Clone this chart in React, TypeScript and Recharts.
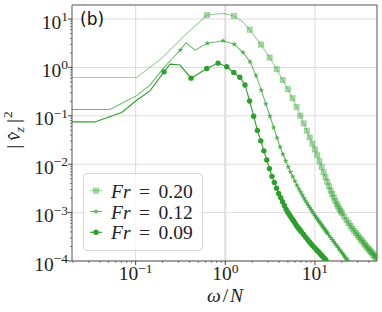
import { LineChart, Line, XAxis, YAxis, CartesianGrid, ReferenceLine } from 'recharts';

// ω/N positions and |v_z|^2 values.
// *Path = line vertices without a marker, *Marks = points that carry a marker.
const fr020Path = [
  [0.0195, 0.62], [0.103, 0.62], [0.202, 1.63], [0.337, 4.24], [0.953, 13.1], [1.55, 8.9], [49.3, 0.000111],
];
const fr020Marks = [
  [0.625, 12.1], [1.25, 11.6], [1.875, 6.01], [2.5, 2.97], [3.125, 1.6], [3.75, 0.916], [4.375, 0.551],
  [5.0, 0.355], [5.625, 0.231], [6.25, 0.153], [6.875, 0.101], [7.5, 0.0697], [8.125, 0.0493],
  [8.75, 0.0358], [9.375, 0.0266], [10.0, 0.0202], [10.625, 0.0153], [11.25, 0.0115], [11.875, 0.00875],
  [12.5, 0.00677], [13.125, 0.00537], [13.75, 0.00432], [14.375, 0.0035], [15.0, 0.00286],
  [15.625, 0.00242], [16.25, 0.00205], [16.875, 0.00175], [17.5, 0.00152], [18.125, 0.00134],
  [18.75, 0.00119], [19.375, 0.00107], [20.0, 0.000977], [21.25, 0.000824], [22.5, 0.000698],
  [23.75, 0.000607], [25.0, 0.000531], [26.25, 0.000468], [27.5, 0.000417], [28.75, 0.000376],
  [30.0, 0.00034], [31.25, 0.000308], [32.5, 0.000281], [33.75, 0.000257], [35.0, 0.000236],
  [36.25, 0.000217], [37.5, 0.000201], [38.75, 0.000186], [40.0, 0.000174], [41.25, 0.000163],
  [42.5, 0.000153], [43.75, 0.000144], [45.0, 0.000135], [46.25, 0.000128], [47.5, 0.000121],
  [48.75, 0.000114],
];

const fr012Path = [
  [0.0195, 0.135], [0.0516, 0.135], [0.1026, 0.261], [0.1445, 0.43], [0.203, 0.953], [0.365, 3.23],
  [0.46, 2.28], [23.5, 0.0001],
];
const fr012Marks = [
  [0.315, 2.29], [0.63, 3.16], [0.945, 3.56], [1.26, 3.02], [1.575, 2.04], [1.89, 1.31], [2.205, 0.676],
  [2.52, 0.339], [2.835, 0.177], [3.15, 0.0982], [3.465, 0.0575], [3.78, 0.0352], [4.095, 0.0226],
  [4.41, 0.0161], [4.725, 0.0117], [5.04, 0.00875], [5.355, 0.0069], [5.67, 0.00552], [5.985, 0.00447],
  [6.3, 0.00366], [6.615, 0.00311], [6.93, 0.00267], [7.245, 0.0023], [7.56, 0.002], [7.875, 0.00175],
  [8.19, 0.00155], [8.505, 0.00139], [8.82, 0.00125], [9.135, 0.00113], [9.45, 0.00103],
  [9.765, 0.000933], [10.08, 0.000853], [10.395, 0.000787], [10.71, 0.000729], [11.025, 0.000676],
  [11.34, 0.000628], [11.655, 0.000585], [11.97, 0.000546], [12.285, 0.000511], [12.6, 0.000478],
  [12.915, 0.000448], [13.23, 0.000421], [13.545, 0.000396], [13.86, 0.000373], [14.49, 0.000333],
  [15.12, 0.000299], [15.75, 0.00027], [16.38, 0.000245], [17.01, 0.000223], [17.64, 0.000204],
  [18.27, 0.000187], [18.9, 0.000171], [19.53, 0.000158], [20.16, 0.000146], [20.79, 0.000135],
  [21.42, 0.000125], [22.05, 0.000116], [22.68, 0.000109], [23.31, 0.000101],
];

const fr009Path = [
  [0.0195, 0.0748], [0.0351, 0.0748], [0.0698, 0.117], [0.1026, 0.21], [0.1445, 0.328], [0.242, 1.17],
  [0.313, 1.12], [13.5, 0.0001],
];
const fr009Marks = [
  [0.2075, 0.81], [0.415, 0.6], [0.6225, 0.95], [0.83, 1.23], [1.0375, 1.03], [1.245, 0.787],
  [1.4525, 0.628], [1.66, 0.434], [1.8675, 0.203], [2.075, 0.098], [2.2825, 0.05], [2.49, 0.0304],
  [2.6975, 0.0189], [2.905, 0.01225], [3.1125, 0.00811], [3.32, 0.00562], [3.5275, 0.00421],
  [3.735, 0.0032], [3.9425, 0.00248], [4.15, 0.00204], [4.3575, 0.00168], [4.565, 0.0014],
  [4.7725, 0.00118], [4.98, 0.00102], [5.1875, 0.000908], [5.395, 0.000813], [5.6025, 0.000731],
  [5.81, 0.000661], [6.0175, 0.0006], [6.225, 0.000546], [6.4325, 0.0005], [6.64, 0.000465],
  [6.8475, 0.000432], [7.055, 0.000404], [7.47, 0.000353], [7.885, 0.000311], [8.3, 0.000276],
  [8.715, 0.000247], [9.13, 0.000222], [9.545, 0.000203], [9.96, 0.000187], [10.375, 0.000172],
  [10.79, 0.000159], [11.205, 0.000148], [11.62, 0.000137], [12.035, 0.000128], [12.45, 0.000119],
  [12.865, 0.000112], [13.28, 0.000105],
];

const xTicks = [
  0.02, 0.03, 0.04, 0.05, 0.06, 0.07, 0.08, 0.09, 0.1, 0.2, 0.3, 0.4, 0.5, 0.6, 0.7, 0.8, 0.9,
  1, 2, 3, 4, 5, 6, 7, 8, 9, 10, 20, 30, 40,
];
const yTicks = [
  1e-4, 2e-4, 3e-4, 4e-4, 5e-4, 6e-4, 7e-4, 8e-4, 9e-4,
  1e-3, 2e-3, 3e-3, 4e-3, 5e-3, 6e-3, 7e-3, 8e-3, 9e-3,
  1e-2, 2e-2, 3e-2, 4e-2, 5e-2, 6e-2, 7e-2, 8e-2, 9e-2,
  0.1, 0.2, 0.3, 0.4, 0.5, 0.6, 0.7, 0.8, 0.9,
  1, 2, 3, 4, 5, 6, 7, 8, 9, 10,
];
const gridX = [0.1, 1, 10];
const gridY = [1e-4, 1e-3, 1e-2, 0.1, 1, 10];
const legendLabels = ['0.20', '0.12', '0.09'];

const GREEN = '44,160,44';
const SERIF = '"Liberation Serif", "Times New Roman", serif';
const FS = 19.5;
const SUP = 13.5;

const merge = (path: number[][], marks: number[][]) =>
  [
    ...path.map(([w, v]) => ({ w, v, m: false })),
    ...marks.map(([w, v]) => ({ w, v, m: true })),
  ].sort((a, b) => a.w - b.w);

const d020 = merge(fr020Path, fr020Marks);
const d012 = merge(fr012Path, fr012Marks);
const d009 = merge(fr009Path, fr009Marks);

const isMajor = (v: number) => Math.abs(Math.log10(v) - Math.round(Math.log10(v))) < 1e-6;
const expLabel = (v: number) => {
  const e = Math.round(Math.log10(v));
  return e < 0 ? '\u2212' + -e : String(e);
};

const starPoints = (cx: number, cy: number, r: number) => {
  const pts: string[] = [];
  for (let i = 0; i < 10; i++) {
    const a = -Math.PI / 2 + (i * Math.PI) / 5;
    const rr = i % 2 === 0 ? r : r * 0.45;
    pts.push(`${cx + rr * Math.cos(a)},${cy + rr * Math.sin(a)}`);
  }
  return pts.join(' ');
};

const SquareMark = ({ cx, cy }: any) => (
  <rect x={cx - 2.6} y={cy - 2.6} width={5.2} height={5.2}
    fill={`rgba(${GREEN},0.38)`} stroke={`rgba(${GREEN},0.38)`} strokeWidth={0.8} />
);
const StarMark = ({ cx, cy }: any) => (
  <polygon points={starPoints(cx, cy, 3)} fill={`rgba(${GREEN},0.7)`} />
);
const CircleMark = ({ cx, cy }: any) => <circle cx={cx} cy={cy} r={2.7} fill={`rgb(${GREEN})`} />;

const dotWith = (Shape: any) => (p: any) => {
  if (!p.payload || !p.payload.m) return <g key={`n-${p.index}`} />;
  return <Shape key={`d-${p.index}`} cx={p.cx} cy={p.cy} />;
};

const XTick = (props: any) => {
  const { x, y, payload } = props;
  const major = isMajor(payload.value);
  return (
    <g>
      <line x1={x} x2={x} y1={y} y2={y + (major ? 4 : 2)} stroke="#333" strokeWidth={major ? 0.9 : 0.6} />
      {major && (
        <text x={x} y={y + 19} textAnchor="middle" fontFamily={SERIF} fontSize={FS} fill="#222">
          10<tspan dy={-7.5} fontSize={SUP}>{expLabel(payload.value)}</tspan>
        </text>
      )}
    </g>
  );
};

const YTick = (props: any) => {
  const { x, y, payload } = props;
  const major = isMajor(payload.value);
  return (
    <g>
      <line x1={x - (major ? 4 : 2)} x2={x} y1={y} y2={y} stroke="#333" strokeWidth={major ? 0.9 : 0.6} />
      {major && (
        <text x={x - 4} y={y + 9.5} textAnchor="end" fontFamily={SERIF} fontSize={FS} fill="#222">
          10<tspan dy={-7.5} fontSize={SUP}>{expLabel(payload.value)}</tspan>
        </text>
      )}
    </g>
  );
};

const legendMarks = [SquareMark, StarMark, CircleMark];
const legendStroke = [`rgba(${GREEN},0.45)`, `rgba(${GREEN},0.7)`, `rgb(${GREEN})`];

export default function App() {
  return (
    <div style={{ position: 'absolute', left: 0, top: 0, width: 382, height: 312, background: '#fff' }}>
      <LineChart width={382} height={312} margin={{ top: 5, right: 5, left: 0, bottom: 0 }}>
        <CartesianGrid horizontalValues={gridY} verticalValues={gridX} stroke="#d4d4d4" strokeWidth={0.8} />
        <ReferenceLine x={1} stroke="#e0e0e0" strokeWidth={2} />
        <ReferenceLine y={19.5} stroke="#555" strokeWidth={1} />
        <ReferenceLine x={49.3} stroke="#555" strokeWidth={1} />
        <XAxis
          type="number" scale="log" dataKey="w" domain={[0.0195, 49.3]} allowDataOverflow
          ticks={xTicks} interval={0} tick={XTick} tickLine={false} tickSize={0} tickMargin={0}
          axisLine={{ stroke: '#555' }} height={51}
        />
        <YAxis
          type="number" scale="log" dataKey="v" domain={[1e-4, 19.5]} allowDataOverflow
          ticks={yTicks} interval={0} tick={YTick} tickLine={false} tickSize={0} tickMargin={0}
          axisLine={{ stroke: '#555' }} width={72}
        />
        <Line data={d020} dataKey="v" type="linear" stroke={`rgba(${GREEN},0.45)`} strokeWidth={1.1}
          dot={dotWith(SquareMark)} activeDot={false} isAnimationActive={false} />
        <Line data={d012} dataKey="v" type="linear" stroke={`rgba(${GREEN},0.7)`} strokeWidth={1.1}
          dot={dotWith(StarMark)} activeDot={false} isAnimationActive={false} />
        <Line data={d009} dataKey="v" type="linear" stroke={`rgb(${GREEN})`} strokeWidth={1.1}
          dot={dotWith(CircleMark)} activeDot={false} isAnimationActive={false} />
      </LineChart>

      <svg width={382} height={312} style={{ position: 'absolute', left: 0, top: 0, pointerEvents: 'none' }}>
        <text x={80} y={25} fontFamily='"DejaVu Sans", sans-serif' fontSize={17} fill="#111">(b)</text>
        <text x={225} y={302} textAnchor="middle" fontFamily={SERIF} fontSize={FS} fill="#222">
          <tspan fontStyle="italic">ω</tspan>
          <tspan dx={2}>/</tspan>
          <tspan dx={2} fontStyle="italic">N</tspan>
        </text>
        <text transform="rotate(-90)" x={-130} y={20} textAnchor="middle" fontFamily={SERIF} fontSize={FS} fill="#222">
          |<tspan dx={4} fontStyle="italic">v̂</tspan>
          <tspan fontStyle="italic" fontSize={SUP} dy={4}>z</tspan>
          <tspan dx={4} dy={-4}>|</tspan>
          <tspan dx={1} fontSize={SUP} dy={-8}>2</tspan>
        </text>
      </svg>

      <svg width={120} height={78} style={{ position: 'absolute', left: 83, top: 173 }}>
        <rect x={0.5} y={0.5} width={119} height={77} rx={3.5} fill="#fff" fillOpacity={0.8} stroke="#d8d8d8" />
        {legendLabels.map((lab, i) => {
          const cy = 17.7 + i * 20.8;
          const Mark = legendMarks[i];
          return (
            <g key={lab}>
              <line x1={7} x2={19} y1={cy} y2={cy} stroke={legendStroke[i]} strokeWidth={1.1} />
              <Mark cx={13} cy={cy} />
              <text x={28} y={cy + 7} fontFamily={SERIF} fontSize={FS} fill="#222">
                <tspan fontStyle="italic">Fr</tspan>
                <tspan dx={8.5}>=</tspan>
                <tspan dx={8.5}>{lab}</tspan>
              </text>
            </g>
          );
        })}
      </svg>
    </div>
  );
}
